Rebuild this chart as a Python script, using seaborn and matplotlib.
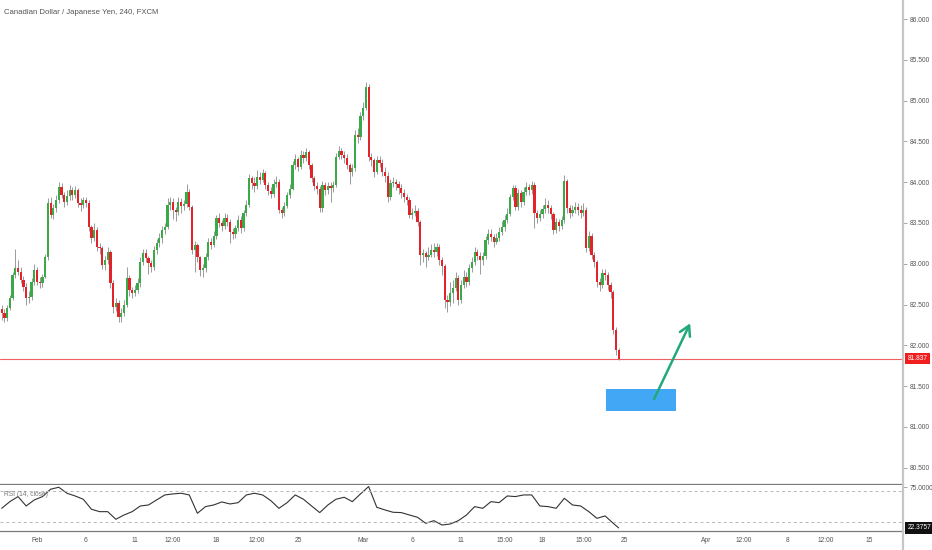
import numpy as np
import pandas as pd
import matplotlib
matplotlib.use("Agg")
import matplotlib.pyplot as plt
import matplotlib.transforms as mtransforms
from matplotlib.patches import Rectangle
from matplotlib.lines import Line2D
import seaborn as sns

# CAD/JPY 4h candles (open = previous close)
first_open = 82.45
closes = [
    82.40, 82.34, 82.46, 82.58, 82.86, 82.95, 82.90, 82.80, 82.72, 82.58,
    82.59, 82.78, 82.92, 82.78, 82.76, 82.84, 83.08, 83.75, 83.60, 83.68,
    83.78, 83.94, 83.84, 83.76, 83.83, 83.90, 83.84, 83.90, 83.75, 83.72,
    83.78, 83.75, 83.45, 83.32, 83.41, 83.21, 83.19, 82.99, 83.05, 83.14,
    82.76, 82.47, 82.52, 82.35, 82.40, 82.50, 82.83, 82.68, 82.64, 82.68,
    82.76, 83.02, 83.13, 83.07, 83.01, 82.96, 83.17, 83.25, 83.32, 83.41,
    83.45, 83.72, 83.76, 83.66, 83.63, 83.76, 83.71, 83.73, 83.88, 83.70,
    83.17, 83.23, 83.08, 82.92, 82.95, 83.08, 83.27, 83.23, 83.34, 83.56,
    83.50, 83.46, 83.56, 83.51, 83.39, 83.36, 83.44, 83.54, 83.44, 83.62,
    83.72, 84.05, 83.99, 83.95, 84.06, 84.03, 84.11, 83.97, 83.89, 83.86,
    83.98, 84.00, 83.66, 83.62, 83.71, 83.84, 83.92, 84.21, 84.28, 84.19,
    84.33, 84.30, 84.37, 84.21, 84.05, 83.95, 83.92, 83.68, 83.97, 83.90,
    83.95, 83.93, 83.97, 84.31, 84.38, 84.33, 84.30, 84.21, 84.13, 84.17,
    84.58, 84.55, 84.81, 84.91, 85.17, 84.31, 84.27, 84.13, 84.27, 84.24,
    84.13, 84.08, 83.82, 83.99, 84.00, 83.98, 83.93, 83.87, 83.82, 83.78,
    83.60, 83.62, 83.65, 83.51, 83.11, 83.13, 83.08, 83.11, 83.17, 83.14,
    83.21, 83.05, 82.97, 82.56, 82.53, 82.64, 82.70, 82.83, 82.56, 82.74,
    82.84, 82.78, 82.95, 83.02, 83.14, 83.10, 83.05, 83.09, 83.29, 83.37,
    83.33, 83.27, 83.32, 83.39, 83.45, 83.54, 83.61, 83.82, 83.93, 83.70,
    83.87, 83.76, 83.88, 83.94, 83.90, 83.97, 83.62, 83.56, 83.61, 83.67,
    83.72, 83.68, 83.61, 83.41, 83.51, 83.46, 83.54, 84.01, 83.68, 83.62,
    83.66, 83.70, 83.66, 83.62, 83.66, 83.19, 83.34, 83.11, 83.02, 82.78,
    82.74, 82.89, 82.86, 82.74, 82.65, 82.19, 81.94, 81.837,
]
highs = [
    82.50, 82.44, 82.50, 82.62, 82.90, 83.18, 83.05, 82.96, 82.85, 82.76,
    82.66, 82.82, 83.00, 82.96, 82.84, 82.88, 83.12, 83.80, 83.82, 83.73,
    83.84, 84.00, 83.99, 83.88, 83.90, 83.96, 83.94, 83.95, 83.93, 83.80,
    83.82, 83.82, 83.78, 83.48, 83.50, 83.45, 83.26, 83.22, 83.10, 83.20,
    83.17, 82.80, 82.58, 82.55, 82.46, 82.55, 82.96, 82.86, 82.72, 82.74,
    82.82, 83.08, 83.18, 83.18, 83.10, 83.05, 83.22, 83.30, 83.38, 83.46,
    83.50, 83.80, 83.82, 83.80, 83.70, 83.82, 83.80, 83.78, 83.98, 83.92,
    83.72, 83.28, 83.26, 83.10, 83.00, 83.13, 83.32, 83.32, 83.40, 83.60,
    83.62, 83.54, 83.62, 83.61, 83.55, 83.44, 83.48, 83.60, 83.58, 83.66,
    83.78, 84.10, 84.08, 84.06, 84.15, 84.12, 84.16, 84.14, 84.00, 83.94,
    84.04, 84.08, 84.04, 83.70, 83.76, 83.88, 83.98, 84.26, 84.34, 84.31,
    84.40, 84.38, 84.42, 84.40, 84.24, 84.08, 84.00, 83.95, 84.02, 84.00,
    84.00, 84.00, 84.02, 84.36, 84.44, 84.42, 84.38, 84.34, 84.24, 84.22,
    84.64, 84.66, 84.86, 84.98, 85.23, 85.20, 84.36, 84.30, 84.32, 84.32,
    84.28, 84.18, 84.12, 84.04, 84.06, 84.04, 84.02, 83.98, 83.92, 83.86,
    83.82, 83.68, 83.72, 83.68, 83.54, 83.18, 83.16, 83.20, 83.24, 83.26,
    83.26, 83.24, 83.08, 83.00, 82.62, 82.78, 82.80, 82.90, 82.86, 82.80,
    82.92, 82.90, 83.00, 83.08, 83.20, 83.18, 83.14, 83.14, 83.34, 83.42,
    83.42, 83.36, 83.38, 83.45, 83.52, 83.60, 83.68, 83.86, 83.96, 83.96,
    83.92, 83.90, 83.94, 84.00, 83.98, 84.02, 84.00, 83.66, 83.66, 83.72,
    83.80, 83.78, 83.72, 83.64, 83.56, 83.55, 83.58, 84.09, 84.04, 83.72,
    83.72, 83.76, 83.74, 83.72, 83.74, 83.70, 83.40, 83.38, 83.14, 83.05,
    82.82, 82.94, 82.94, 82.90, 82.78, 82.68, 82.22, 81.97,
]
lows = [
    82.31, 82.28, 82.30, 82.43, 82.55, 82.82, 82.86, 82.76, 82.66, 82.50,
    82.52, 82.56, 82.74, 82.74, 82.70, 82.72, 82.82, 83.05, 83.56, 83.55,
    83.64, 83.74, 83.80, 83.70, 83.72, 83.78, 83.78, 83.80, 83.70, 83.65,
    83.68, 83.70, 83.40, 83.26, 83.28, 83.16, 83.12, 82.94, 82.92, 83.00,
    82.70, 82.40, 82.42, 82.29, 82.28, 82.36, 82.47, 82.60, 82.58, 82.60,
    82.64, 82.72, 82.98, 83.02, 82.88, 82.90, 82.92, 83.12, 83.20, 83.26,
    83.36, 83.42, 83.66, 83.55, 83.52, 83.60, 83.62, 83.66, 83.70, 83.66,
    83.12, 82.90, 83.02, 82.85, 82.84, 82.90, 83.05, 83.18, 83.20, 83.30,
    83.45, 83.40, 83.42, 83.46, 83.26, 83.30, 83.32, 83.40, 83.38, 83.40,
    83.58, 83.70, 83.92, 83.88, 83.92, 83.98, 84.00, 83.92, 83.84, 83.80,
    83.82, 83.94, 83.62, 83.56, 83.58, 83.68, 83.80, 83.90, 84.16, 84.14,
    84.16, 84.24, 84.26, 84.16, 84.00, 83.90, 83.86, 83.64, 83.64, 83.84,
    83.86, 83.76, 83.88, 83.94, 84.28, 84.28, 84.24, 84.16, 83.98, 84.08,
    84.14, 84.48, 84.52, 84.76, 84.88, 84.26, 84.20, 84.06, 84.10, 84.18,
    84.08, 84.00, 83.76, 83.78, 83.94, 83.90, 83.86, 83.80, 83.76, 83.72,
    83.56, 83.55, 83.58, 83.46, 82.98, 83.02, 82.96, 83.04, 83.08, 83.08,
    83.10, 82.98, 82.86, 82.46, 82.41, 82.48, 82.52, 82.66, 82.50, 82.52,
    82.70, 82.72, 82.74, 82.90, 82.98, 83.04, 82.88, 82.98, 83.06, 83.24,
    83.28, 83.20, 83.24, 83.28, 83.35, 83.40, 83.50, 83.58, 83.78, 83.66,
    83.66, 83.70, 83.72, 83.84, 83.84, 83.86, 83.44, 83.50, 83.52, 83.56,
    83.62, 83.62, 83.55, 83.36, 83.38, 83.40, 83.42, 83.50, 83.62, 83.56,
    83.58, 83.62, 83.60, 83.56, 83.58, 83.14, 83.16, 83.06, 82.96, 82.72,
    82.66, 82.70, 82.80, 82.68, 82.58, 82.14, 81.88, 81.82,
]

# RSI(14) read every third bar, last value as printed
rsi_vals = [
    47.6, 56.2, 62.7, 50.6, 58.4, 62.7, 72.2, 74.7, 67.0, 63.5,
    59.3, 46.4, 43.3, 43.3, 33.5, 39.0, 43.3, 50.6, 51.9, 58.4,
    64.8, 66.1, 67.0, 64.8, 41.2, 49.8, 51.9, 55.8, 53.2, 54.9,
    64.8, 67.0, 64.8, 57.5, 47.6, 54.9, 64.8, 59.3, 50.6, 42.1,
    51.9, 59.3, 61.8, 56.2, 66.1, 75.6, 48.9, 45.5, 42.5, 42.1,
    39.0, 36.0, 28.3, 31.7, 26.1, 27.4, 31.7, 39.0, 49.8, 47.6,
    56.2, 54.9, 63.5, 62.7, 64.8, 64.8, 50.6, 49.8, 47.6, 60.5,
    51.9, 50.6, 43.3, 34.7, 37.8, 28.3, 22.3757,
]
rsi_bars = list(range(0, 226, 3)) + [227]

tick_bars = [13, 31, 49, 63, 79, 94, 109, 133, 151, 169, 185, 199, 214, 229,
             259, 273, 289, 303, 319]
tick_labels = ["Feb", "6", "11", "12:00", "18", "12:00", "25", "Mar", "6", "11",
               "15:00", "18", "15:00", "25", "Apr", "12:00", "8", "12:00", "15"]
price_ticks = [80.5, 81.0, 81.5, 82.0, 82.5, 83.0, 83.5, 84.0, 84.5, 85.0, 85.5, 86.0]
last_price = 81.837
last_rsi = 22.3757

# drawn target zone and arrow
zone_low, zone_high = 81.20, 81.47
zone_start, zone_end = 222.3, 248.1
arrow_from = (240.0, 81.34)
arrow_to = (253.3, 82.27)

df = pd.DataFrame({"close": closes, "high": highs, "low": lows})
df["open"] = [first_open] + closes[:-1]
df["bar"] = np.arange(len(df))

sns.set_style("white")
plt.rcParams["font.family"] = ["Liberation Sans Narrow", "Liberation Sans", "DejaVu Sans"]

up_col = "#3aa948"
down_col = "#e2232a"
txt_col = "#555555"

fig = plt.figure(figsize=(9.32, 5.5), dpi=100)
ax = fig.add_axes([0, 66 / 550, 903 / 932, 484 / 550])
ax_rsi = fig.add_axes([0, 19 / 550, 903 / 932, 46 / 550], sharex=ax)

# candles
colors = np.where(df["close"] >= df["open"], up_col, down_col)
ax.vlines(df["bar"], df["low"], df["high"], color="#9a9a9a", lw=0.7, zorder=1)
body = (df["close"] - df["open"]).abs().clip(lower=0.014)
ax.bar(df["bar"], body, bottom=np.minimum(df["open"], df["close"]), width=0.82,
       color=colors, linewidth=0, zorder=2)

ax.axhline(last_price, color="#ef6060", lw=0.8, zorder=0)
ax.add_patch(Rectangle((zone_start, zone_low), zone_end - zone_start, zone_high - zone_low,
                       fc="#42a8f5", ec="none", zorder=3))
ax.annotate("", xy=arrow_to, xytext=arrow_from,
            arrowprops=dict(arrowstyle="->,head_length=0.7,head_width=0.4", color="#22a97b",
                            lw=1.8, shrinkA=0, shrinkB=0), zorder=4)

ax.set_xlim(-0.63, 331.6)
ax.set_ylim(80.30, 86.233)
ax.yaxis.tick_right()
ax.set_yticks(price_ticks)
ax.set_yticklabels([f"{v:.3f}" for v in price_ticks])
ax.tick_params(axis="y", direction="out", length=3, width=0.6, color="#999999",
               labelsize=4.8, labelcolor=txt_col, pad=2)
ax.tick_params(axis="x", bottom=False, labelbottom=False)
for s in ["left", "top", "right"]:
    ax.spines[s].set_visible(False)
ax.spines["bottom"].set_color("#7a7a7a")
ax.spines["bottom"].set_linewidth(0.9)

blend = mtransforms.blended_transform_factory(ax.transAxes, ax.transData)
ax.text(1.005, last_price, f"{last_price:.3f}", transform=blend, ha="left", va="center",
        fontsize=4.8, color="white", clip_on=False,
        bbox=dict(boxstyle="square,pad=0.35", fc="#f01e1e", ec="none"))

# RSI panel
sns.lineplot(x=rsi_bars, y=rsi_vals, ax=ax_rsi, color="#333333", lw=0.8)
for lvl in (70, 30):
    ax_rsi.axhline(lvl, color="#b8b8b8", lw=0.7, ls=(0, (3, 3)))
ax_rsi.set_ylim(18.4, 77.6)
ax_rsi.yaxis.tick_right()
ax_rsi.set_yticks([75])
ax_rsi.set_yticklabels(["75.0000"])
ax_rsi.tick_params(axis="y", direction="out", length=3, width=0.6, color="#999999",
                   labelsize=4.8, labelcolor=txt_col, pad=2)
ax_rsi.set_xticks(tick_bars)
ax_rsi.set_xticklabels(tick_labels)
ax_rsi.tick_params(axis="x", direction="out", length=2, width=0.6, color="#999999",
                   labelsize=4.8, labelcolor=txt_col, pad=2)
ax_rsi.set_xlabel("")
ax_rsi.set_ylabel("")
for s in ["left", "top", "right"]:
    ax_rsi.spines[s].set_visible(False)
ax_rsi.spines["bottom"].set_color("#7a7a7a")
ax_rsi.spines["bottom"].set_linewidth(0.9)

blend_r = mtransforms.blended_transform_factory(ax_rsi.transAxes, ax_rsi.transData)
ax_rsi.text(1.005, last_rsi, f"{last_rsi:.4f}", transform=blend_r, ha="left", va="center",
            fontsize=4.8, color="white", clip_on=False,
            bbox=dict(boxstyle="square,pad=0.35", fc="#111111", ec="none"))

fig.text(4 / 932, 1 - 494 / 550, "RSI (14, close)", ha="left", va="center",
         fontsize=4.8, color="#777777")
fig.text(4 / 932, 1 - 12 / 550, "Canadian Dollar / Japanese Yen, 240, FXCM", ha="left",
         va="center", fontsize=5.6, color=txt_col)

# price scale border
fig.add_artist(Line2D([903 / 932, 903 / 932], [0, 1], transform=fig.transFigure,
                      color="#c6c6c6", lw=1.6))

fig.savefig("out.png", dpi=100)
